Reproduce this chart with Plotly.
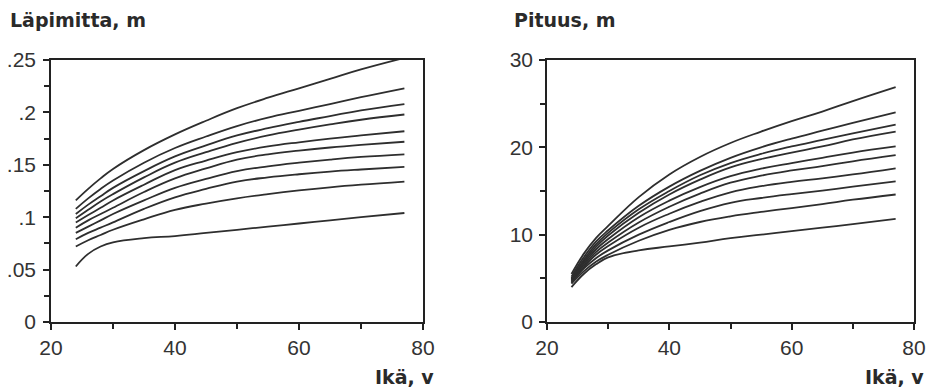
import plotly.graph_objects as go

# ---------------- data ----------------
ages = [24, 26, 28, 30, 35, 40, 45, 50, 55, 60, 65, 70, 77]

# Läpimitta (diameter, m) curves, top to bottom
d1 = [.116, .127, .137, .146, .164, .179, .192, .204, .214, .223, .232, .241, .252]
d2 = [.108, .118, .127, .135, .152, .166, .177, .187, .195, .2015, .208, .2145, .223]
d3 = [.103, .112, .120, .128, .144, .158, .1685, .178, .185, .191, .1965, .202, .208]
d4 = [.099, .107, .115, .122, .138, .152, .162, .171, .178, .1835, .1885, .193, .198]
d5 = [.095, .102, .109, .116, .131, .145, .154, .162, .1675, .1715, .175, .178, .182]
d6 = [.090, .097, .103, .109, .124, .137, .1465, .155, .160, .1635, .1665, .169, .172]
d7 = [.085, .091, .097, .103, .116, .128, .1365, .144, .1485, .152, .155, .1575, .160]
d8 = [.079, .085, .090, .095, .108, .119, .127, .134, .138, .141, .1435, .1455, .148]
d9 = [.072, .078, .083, .088, .098, .107, .113, .118, .122, .1255, .1285, .131, .134]
d10 = [.053, .065, .072, .076, .080, .082, .085, .088, .091, .094, .097, .100, .104]
diam_series = [d1, d2, d3, d4, d5, d6, d7, d8, d9, d10]

# Pituus (height, m) curves, top to bottom
h1 = [5.5, 7.8, 9.6, 11.0, 14.3, 16.9, 18.9, 20.5, 21.8, 23.0, 24.1, 25.3, 26.9]
h2 = [5.2, 7.4, 9.2, 10.5, 13.3, 15.5, 17.3, 18.8, 20.0, 21.0, 21.9, 22.8, 24.0]
h3 = [5.0, 7.1, 8.9, 10.2, 12.9, 15.0, 16.8, 18.2, 19.25, 20.1, 20.85, 21.6, 22.6]
h4 = [4.9, 6.9, 8.6, 9.9, 12.5, 14.6, 16.3, 17.7, 18.65, 19.4, 20.1, 20.9, 21.8]
h5 = [4.8, 6.7, 8.3, 9.5, 12.0, 13.9, 15.45, 16.7, 17.55, 18.2, 18.8, 19.4, 20.1]
h6 = [4.7, 6.5, 8.0, 9.1, 11.4, 13.2, 14.7, 15.95, 16.75, 17.35, 17.85, 18.4, 19.1]
h7 = [4.6, 6.3, 7.7, 8.7, 10.8, 12.4, 13.75, 14.85, 15.55, 16.05, 16.45, 16.9, 17.6]
h8 = [4.5, 6.1, 7.3, 8.2, 10.0, 11.45, 12.7, 13.65, 14.2, 14.65, 15.05, 15.5, 16.1]
h9 = [4.4, 5.8, 6.9, 7.7, 9.3, 10.55, 11.45, 12.1, 12.6, 13.05, 13.5, 14.0, 14.6]
h10 = [4.0, 5.5, 6.6, 7.4, 8.2, 8.65, 9.1, 9.6, 10.0, 10.4, 10.8, 11.2, 11.8]
height_series = [h1, h2, h3, h4, h5, h6, h7, h8, h9, h10]

x_ticks = [20, 40, 60, 80]
x_minor = [30, 50, 70]
diam_ticks = [0, 0.05, 0.1, 0.15, 0.2, 0.25]
diam_ticktext = ["0", ".05", ".1", ".15", ".2", ".25"]
diam_minor = [0.025, 0.075, 0.125, 0.175, 0.225]
height_ticks = [0, 10, 20, 30]
height_minor = [5, 15, 25]

# ---------------- figure ----------------
W, H = 934, 391
LINE = "#2e2e2e"
fig = go.Figure()

for s in diam_series:
    fig.add_trace(go.Scatter(x=ages, y=s, mode="lines", xaxis="x", yaxis="y",
                             line=dict(color=LINE, width=1.8, shape="spline", smoothing=1.2),
                             showlegend=False, hoverinfo="skip"))
for s in height_series:
    fig.add_trace(go.Scatter(x=ages, y=s, mode="lines", xaxis="x2", yaxis="y2",
                             line=dict(color=LINE, width=1.8, shape="spline", smoothing=1.2),
                             showlegend=False, hoverinfo="skip"))

tickfont = dict(family="Liberation Sans, Arial, sans-serif", size=21, color="#333")
common_axis = dict(showline=True, linecolor="#222", linewidth=1.5, mirror=True,
                   showgrid=False, zeroline=False, ticks="outside", ticklen=6,
                   tickwidth=1.5, tickcolor="#222", tickfont=tickfont,
                   automargin=False)
minor_style = dict(ticks="outside", ticklen=5, tickwidth=1.5, tickcolor="#222")

ydom = [1 - 322 / H, 1 - 60 / H]

fig.update_layout(
    template="none",
    width=W, height=H,
    margin=dict(l=0, r=0, t=0, b=0, pad=0),
    paper_bgcolor="white", plot_bgcolor="white",
    showlegend=False,
    xaxis=dict(domain=[51 / W, 423 / W], range=[20, 80], tickvals=x_ticks,
               minor=dict(tickvals=x_minor, **minor_style),
               anchor="y", **common_axis),
    yaxis=dict(domain=ydom, range=[0, 0.25], tickvals=diam_ticks, ticktext=diam_ticktext,
               minor=dict(tickvals=diam_minor, **minor_style),
               ticklabelstandoff=3,
               anchor="x", **common_axis),
    xaxis2=dict(domain=[547 / W, 914 / W], range=[20, 80], tickvals=x_ticks,
                minor=dict(tickvals=x_minor, **minor_style),
                anchor="y2", **common_axis),
    yaxis2=dict(domain=ydom, range=[0, 30], tickvals=height_ticks,
                minor=dict(tickvals=height_minor, **minor_style),
                ticklabelstandoff=2,
                anchor="x2", **common_axis),
)

titlefont = dict(family="DejaVu Sans, sans-serif", size=19, color="#2a2a2a", weight="bold")
fig.add_annotation(text="Läpimitta, m", xref="paper", yref="paper",
                   x=8 / W, y=1 - 20 / H, xanchor="left", yanchor="middle",
                   showarrow=False, font=titlefont)
fig.add_annotation(text="Pituus, m", xref="paper", yref="paper",
                   x=512 / W, y=1 - 20 / H, xanchor="left", yanchor="middle",
                   showarrow=False, font=titlefont)
fig.add_annotation(text="Ikä, v", xref="paper", yref="paper",
                   x=436 / W, y=1 - 377 / H, xanchor="right", yanchor="middle",
                   showarrow=False, font=titlefont)
fig.add_annotation(text="Ikä, v", xref="paper", yref="paper",
                   x=926 / W, y=1 - 377 / H, xanchor="right", yanchor="middle",
                   showarrow=False, font=titlefont)

fig.write_html("out.html")
